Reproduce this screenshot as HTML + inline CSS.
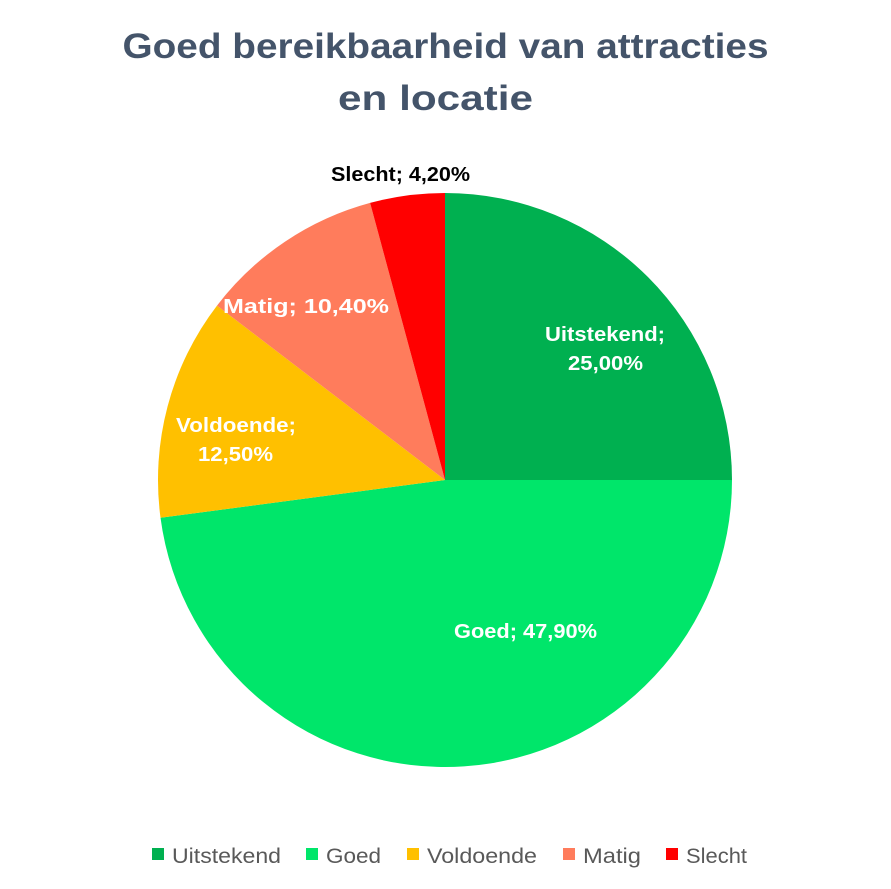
<!DOCTYPE html>
<html><head><meta charset="utf-8"><style>
html,body{margin:0;padding:0;background:#fff;}
svg{display:block;}
text{font-family:"Liberation Sans",sans-serif;}
</style></head><body>
<svg width="891" height="889" viewBox="0 0 891 889" xmlns="http://www.w3.org/2000/svg">
<rect width="891" height="889" fill="#fff"/>
<text x="445.5" y="58" text-anchor="middle" font-size="35" font-weight="bold" fill="#44546A" textLength="646" lengthAdjust="spacingAndGlyphs">Goed bereikbaarheid van attracties</text>
<text x="435.5" y="110" text-anchor="middle" font-size="35" font-weight="bold" fill="#44546A" textLength="195" lengthAdjust="spacingAndGlyphs">en locatie</text>
<path d="M445,480 L445,193 A287,287 0 0 1 732,480 Z" fill="#00B050"/>
<path d="M445,480 L732,480 A287,287 0 0 1 160.5,517.8 Z" fill="#00E66A"/>
<path d="M445,480 L160.5,517.8 A287,287 0 0 1 217,305.6 Z" fill="#FFC000"/>
<path d="M445,480 L217,305.6 A287,287 0 0 1 370.1,202.9 Z" fill="#FF7C5C"/>
<path d="M445,480 L370.1,202.9 A287,287 0 0 1 445,193 Z" fill="#FF0000"/>
<g font-size="20" font-weight="bold" fill="#fff" lengthAdjust="spacingAndGlyphs">
<text x="545" y="341" textLength="120" lengthAdjust="spacingAndGlyphs">Uitstekend;</text>
<text x="568" y="370" textLength="75" lengthAdjust="spacingAndGlyphs">25,00%</text>
<text x="454" y="638" textLength="143" lengthAdjust="spacingAndGlyphs">Goed; 47,90%</text>
<text x="176" y="432" textLength="120" lengthAdjust="spacingAndGlyphs">Voldoende;</text>
<text x="198" y="461" textLength="75" lengthAdjust="spacingAndGlyphs">12,50%</text>
<text x="223" y="313" textLength="166" lengthAdjust="spacingAndGlyphs">Matig; 10,40%</text>
</g>
<text x="331" y="181" font-size="20" font-weight="bold" fill="#000" textLength="139" lengthAdjust="spacingAndGlyphs">Slecht; 4,20%</text>
<g font-size="21" fill="#595959">
<rect x="152" y="848" width="12" height="12" fill="#00B050"/><text x="172" y="863" textLength="109" lengthAdjust="spacingAndGlyphs">Uitstekend</text>
<rect x="306" y="848" width="12" height="12" fill="#00E66A"/><text x="326" y="863" textLength="55" lengthAdjust="spacingAndGlyphs">Goed</text>
<rect x="407" y="848" width="12" height="12" fill="#FFC000"/><text x="427" y="863" textLength="110" lengthAdjust="spacingAndGlyphs">Voldoende</text>
<rect x="563" y="848" width="12" height="12" fill="#FF7C5C"/><text x="583" y="863" textLength="58" lengthAdjust="spacingAndGlyphs">Matig</text>
<rect x="666" y="848" width="12" height="12" fill="#FF0000"/><text x="686" y="863" textLength="61" lengthAdjust="spacingAndGlyphs">Slecht</text>
</g>
</svg>
</body></html>
